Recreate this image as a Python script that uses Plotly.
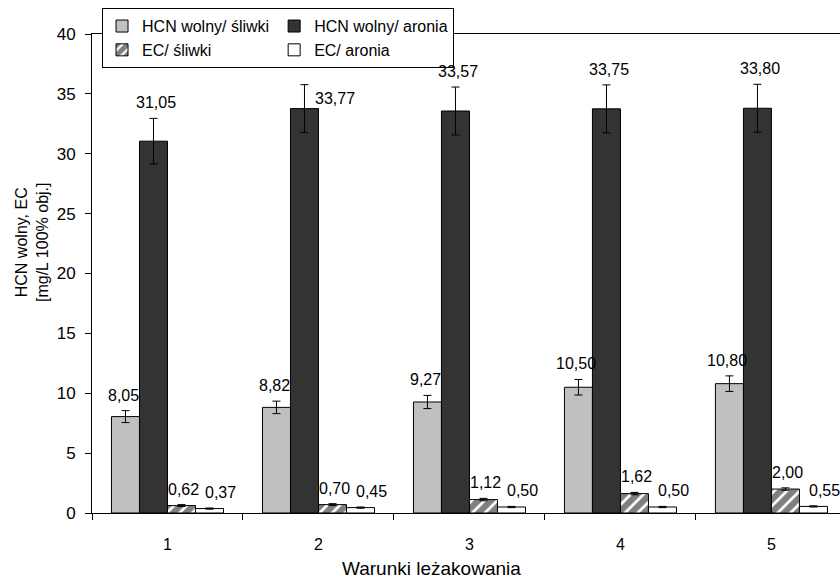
import plotly.graph_objects as go

categories = ["1", "2", "3", "4", "5"]
series_names = ["HCN wolny/ śliwki", "HCN wolny/ aronia", "EC/ śliwki", "EC/ aronia"]
hcn_sliwki = [8.05, 8.82, 9.27, 10.50, 10.80]
hcn_aronia = [31.05, 33.77, 33.57, 33.75, 33.80]
ec_sliwki = [0.62, 0.70, 1.12, 1.62, 2.00]
ec_aronia = [0.37, 0.45, 0.50, 0.50, 0.55]
err_hcn_sliwki = [0.50, 0.52, 0.55, 0.65, 0.65]
err_hcn_aronia = [1.90, 2.00, 2.00, 2.00, 2.00]
err_ec_sliwki = [0.08, 0.08, 0.10, 0.10, 0.10]
err_ec_aronia = [0.05, 0.05, 0.05, 0.05, 0.05]
y_ticks = [0, 5, 10, 15, 20, 25, 30, 35, 40]

values = [hcn_sliwki, hcn_aronia, ec_sliwki, ec_aronia]
errors = [err_hcn_sliwki, err_hcn_aronia, err_ec_sliwki, err_ec_aronia]
groups = ["sliwki", "aronia", "sliwki", "aronia"]

FONT = "Liberation Sans, Arial, sans-serif"
BARGAP = 0.258

fig = go.Figure()
styles = [
    dict(color="#C0C0C0"),
    dict(color="#333333"),
    dict(color="white", pattern=dict(shape="/", fgcolor="black", bgcolor="white",
                                     size=9, solidity=0.7)),
    dict(color="white"),
]
for name, vals, errs, st, grp in zip(series_names, values, errors, styles, groups):
    fig.add_trace(go.Bar(
        x=categories, y=vals, name=name, legendgroup=grp,
        marker=dict(line=dict(color="black", width=1), **st),
        error_y=dict(type="data", array=errs, visible=True, color="black",
                     thickness=1, width=4),
    ))

# data labels above the error bars (label style offsets per series, one manual nudge)
bw = (1 - BARGAP) / 4
xshifts = [-2, 3, 2, 11]
nudges = {(1, 1): (28, -29)}
for i, (vals, errs) in enumerate(zip(values, errors)):
    for j, (v, e) in enumerate(zip(vals, errs)):
        dx, dy = nudges.get((i, j), (0, 0))
        fig.add_annotation(
            x=j + (i - 1.5) * bw, y=v + e, xref="x", yref="y",
            text=f"{v:.2f}".replace(".", ","), showarrow=False,
            xanchor="center", yanchor="bottom", yshift=5 + dy, xshift=xshifts[i] + dx,
            font=dict(size=16, color="black", family=FONT),
        )

fig.add_annotation(x=0.4545, y=-0.1155, xref="paper", yref="paper",
                   text="Warunki leżakowania", showarrow=False,
                   xanchor="center", yanchor="middle",
                   font=dict(size=19, color="black", family=FONT))
fig.add_annotation(x=-0.08, y=0.564, xref="paper", yref="paper",
                   text="HCN wolny, EC<br>[mg/L 100% obj.]", showarrow=False,
                   xanchor="center", yanchor="middle",
                   textangle=-90, font=dict(size=16, color="black", family=FONT))

fig.update_layout(
    width=840, height=582,
    margin=dict(l=92, r=0, t=34, b=69),
    paper_bgcolor="white", plot_bgcolor="white",
    barmode="group", bargap=BARGAP, bargroupgap=0,
    font=dict(family=FONT, size=16, color="black"),
    showlegend=True,
    legend=dict(orientation="h", traceorder="grouped", x=0.0134, y=1.054,
                xanchor="left", yanchor="top", bgcolor="white",
                bordercolor="black", borderwidth=1, tracegroupgap=0,
                font=dict(size=16, family=FONT), itemwidth=30),
    xaxis=dict(type="category", range=[-0.5, 4.454], showline=True, linecolor="black",
               linewidth=1, mirror=True, ticks="outside", tickson="boundaries",
               ticklen=6, tickcolor="black", showgrid=False, zeroline=False,
               tickfont=dict(size=16), ticklabelstandoff=17),
    yaxis=dict(range=[0, 40], tickvals=y_ticks, showline=True, linecolor="black",
               linewidth=1, ticks="outside", ticklen=6, tickcolor="black",
               showgrid=False, zeroline=False, tickfont=dict(size=17),
               ticklabelstandoff=6),
)

fig.write_html("out.html")
